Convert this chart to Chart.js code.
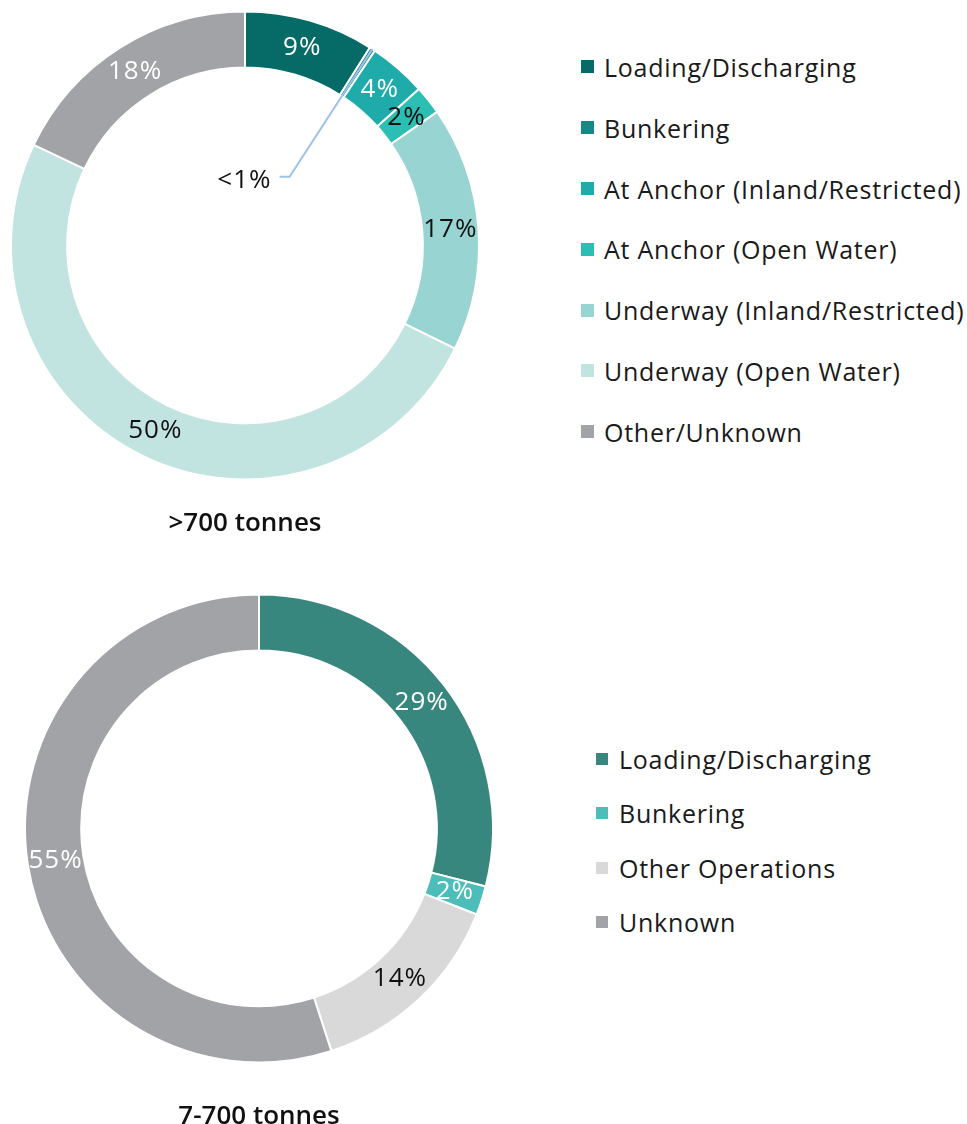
<!DOCTYPE html>
<html>
<head>
<meta charset="utf-8">
<title>Spills by operation</title>
<script src="https://cdn.jsdelivr.net/npm/chart.js@4"></script>
<style>
    body {
        margin: 0;
        background: #fff;
        width: 967px;
        height: 1124px;
        overflow: hidden;
        position: relative;
        font-family: "Open Sans", sans-serif;
        color: #1a1a1a;
    }
    canvas { position: absolute; left: 0; }
    .legend {
        position: absolute;
        list-style: none;
        margin: 0;
        padding: 0;
        font-size: 25px;
        letter-spacing: 0.75px;
    }
    .legend li { display: flex; align-items: center; white-space: nowrap; }
    .legend .sw { display: inline-block; flex: none; }
</style>
</head>
<body>
<canvas id="bigchart" width="500" height="547" style="top:0"></canvas>
<ul id="biglegend" class="legend" style="left:581px; top:36.6px"></ul>
<canvas id="smallchart" width="520" height="557" style="top:583px"></canvas>
<ul id="smalllegend" class="legend" style="left:596px; top:731.9px"></ul>
<script>
// >700 tonnes
const bigLabels = ['Loading/Discharging', 'Bunkering', 'At Anchor (Inland/Restricted)', 'At Anchor (Open Water)',
    'Underway (Inland/Restricted)', 'Underway (Open Water)', 'Other/Unknown'];
const bigValues = [9, 0.4, 4, 2, 17, 50, 18];

// 7-700 tonnes
const smallLabels = ['Loading/Discharging', 'Bunkering', 'Other Operations', 'Unknown'];
const smallValues = [29, 2, 14, 55];

// colours
const bigColors = ['#066b66', '#178984', '#1eaba9', '#2bbfb4', '#98d4d1', '#c1e4e1', '#a2a3a7'];
const bigTextColors = ['#fff', '#111', '#fff', '#111', '#111', '#111', '#fff'];
const smallColors = ['#38877f', '#4dbdba', '#d9d9d9', '#a2a3a7'];
const smallTextColors = ['#fff', '#fff', '#111', '#fff'];

// percentage labels drawn in the middle of each ring segment,
// tiny slices get a leader line into the hole
const pctLabels = {
    id: 'pctLabels',
    afterDatasetsDraw(chart) {
        const ctx = chart.ctx;
        const ds = chart.data.datasets[0];
        const meta = chart.getDatasetMeta(0);
        ctx.save();
        ctx.font = '26px "Open Sans"';
        ctx.letterSpacing = '1px';
        ctx.textBaseline = 'middle';
        meta.data.forEach((arc, i) => {
            const v = ds.data[i];
            if (v < 1) {
                const a = (arc.startAngle + arc.endAngle) / 2;
                const x0 = arc.x + Math.cos(a) * arc.outerRadius;
                const y0 = arc.y + Math.sin(a) * arc.outerRadius;
                const x1 = arc.x + Math.cos(a) * arc.outerRadius * 0.35;
                const y1 = arc.y + Math.sin(a) * arc.outerRadius * 0.35;
                ctx.strokeStyle = '#9dc3e6';
                ctx.lineWidth = 2;
                ctx.beginPath();
                ctx.moveTo(x0, y0);
                ctx.lineTo(x1, y1);
                ctx.lineTo(x1 - 10, y1);
                ctx.stroke();
                ctx.fillStyle = '#111';
                ctx.textAlign = 'right';
                ctx.fillText('<1%', x1 - 18, y1 + 4);
                return;
            }
            const p = arc.tooltipPosition();
            ctx.fillStyle = ds.labelColors[i];
            ctx.textAlign = 'center';
            ctx.fillText(Math.round(v) + '%', p.x, p.y);
        });
        ctx.restore();
    }
};

function makeDoughnut(id, labels, values, colors, textColors, caption, pad, titlePad) {
    return new Chart(document.getElementById(id), {
        type: 'doughnut',
        data: {
            labels: labels,
            datasets: [{
                data: values,
                backgroundColor: colors,
                labelColors: textColors,
                borderColor: '#fff',
                borderWidth: 2,
                hoverOffset: 0
            }]
        },
        options: {
            responsive: false,
            animation: false,
            cutout: '76%',
            layout: { padding: pad },
            plugins: {
                legend: { display: false },
                tooltip: { enabled: false },
                title: {
                    display: true,
                    position: 'bottom',
                    text: caption,
                    color: '#111',
                    font: { family: 'Open Sans', size: 26, weight: '600' },
                    padding: titlePad
                }
            }
        },
        plugins: [pctLabels]
    });
}

function buildLegend(id, labels, colors, rowHeight, box, gap) {
    const ul = document.getElementById(id);
    labels.forEach((label, i) => {
        const li = document.createElement('li');
        li.style.height = rowHeight + 'px';
        const sw = document.createElement('span');
        sw.className = 'sw';
        sw.style.width = box + 'px';
        sw.style.height = box + 'px';
        sw.style.marginRight = gap + 'px';
        sw.style.background = colors[i];
        li.appendChild(sw);
        li.appendChild(document.createTextNode(label));
        ul.appendChild(li);
    });
}

makeDoughnut('bigchart', bigLabels, bigValues, bigColors, bigTextColors, '>700 tonnes',
    { left: 10, top: 10, right: 20, bottom: 0 }, { top: 27, bottom: 8 });
makeDoughnut('smallchart', smallLabels, smallValues, smallColors, smallTextColors, '7-700 tonnes',
    { left: 24, top: 10, right: 26, bottom: 0 }, { top: 37, bottom: 8 });

buildLegend('biglegend', bigLabels, bigColors, 60.8, 13, 10);
buildLegend('smalllegend', smallLabels, smallColors, 54.3, 12, 11);
</script>
</body>
</html>
